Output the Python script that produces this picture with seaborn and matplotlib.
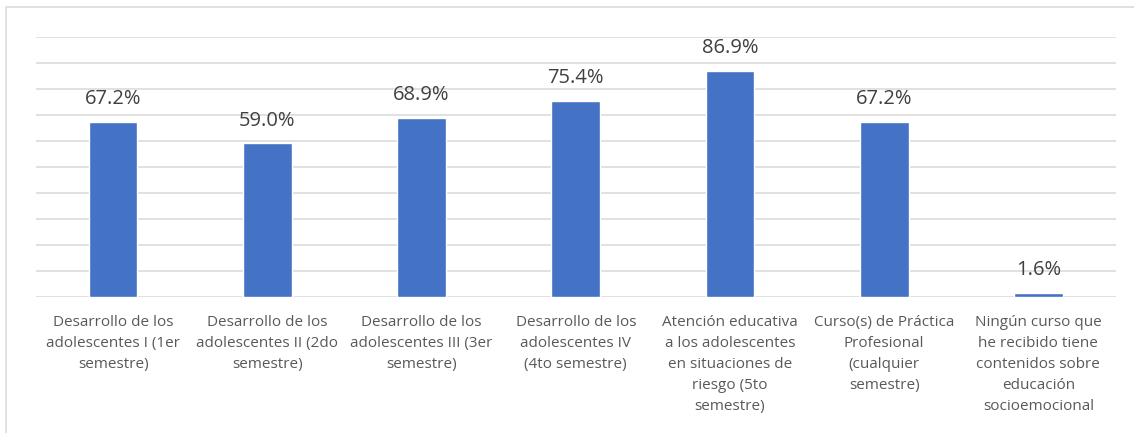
import matplotlib
matplotlib.use("Agg")
import matplotlib.pyplot as plt
from matplotlib.patches import Rectangle
import seaborn as sns
import pandas as pd

categorias = [
    "Desarrollo de los\nadolescentes I (1er\nsemestre)",
    "Desarrollo de los\nadolescentes II (2do\nsemestre)",
    "Desarrollo de los\nadolescentes III (3er\nsemestre)",
    "Desarrollo de los\nadolescentes IV\n(4to semestre)",
    "Atención educativa\na los adolescentes\nen situaciones de\nriesgo (5to\nsemestre)",
    "Curso(s) de Práctica\nProfesional\n(cualquier\nsemestre)",
    "Ningún curso que\nhe recibido tiene\ncontenidos sobre\neducación\nsocioemocional",
]
porcentajes = [67.2, 59.0, 68.9, 75.4, 86.9, 67.2, 1.6]

df = pd.DataFrame({"curso": categorias, "pct": porcentajes})

sns.set_theme(style="white")
plt.rcParams["font.family"] = ["Open Sans", "DejaVu Sans"]

W, H = 1134, 433
fig = plt.figure(figsize=(W / 100, H / 100), dpi=100)
fig.patch.set_facecolor("white")

left, right, top, bottom = 36, 1115.5, 36.7, 296.7
ax = fig.add_axes([left / W, 1 - bottom / H, (right - left) / W, (bottom - top) / H])

sns.barplot(data=df, x="curso", y="pct", color="#4472C4", width=0.316,
            saturation=1, ax=ax)

ax.set_ylim(0, 100)
ax.set_yticks(range(0, 101, 10))
ax.yaxis.grid(True, color="#D9D9D9", linewidth=1.1)
ax.set_axisbelow(True)
ax.tick_params(axis="y", left=False, labelleft=False)
ax.tick_params(axis="x", bottom=False, pad=7, labelsize=11, colors="#595959")
for lbl in ax.get_xticklabels():
    lbl.set_linespacing(1.55)
for s in ax.spines.values():
    s.set_visible(False)
ax.set_xlabel("")
ax.set_ylabel("")

ax.bar_label(ax.containers[0], labels=[f"{v:.1f}%" for v in porcentajes],
             padding=9, fontsize=14.5, color="#404040")

# outer chart frame
fig.patches.append(Rectangle((5.5 / W, -0.2), 1.5, 1.2 - 7 / H,
                             transform=fig.transFigure, fill=False,
                             edgecolor="#D9D9D9", linewidth=1.1))

fig.savefig("out.png", dpi=100)
